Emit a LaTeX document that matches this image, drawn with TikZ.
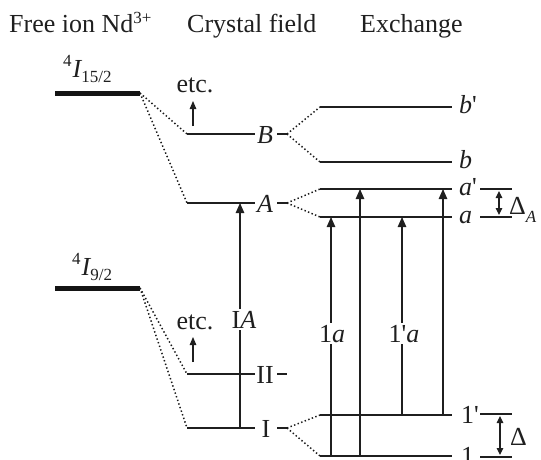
\documentclass[tikz,border=0pt]{standalone}
\usepackage{fontspec}
\setmainfont{Liberation Serif}
\newfontfamily\rawserif{Liberation Serif}
\usetikzlibrary{arrows.meta}
\newcommand\bigsz{\fontsize{26}{30}\selectfont}
\newcommand\smsz{\fontsize{17}{20}\selectfont}
\newcommand\sq{{\rawserif '}}
\tikzset{
  lvl/.style={line width=2pt, draw=black!88},
  xlvl/.style={line width=2.3pt, draw=black!88},
  freelvl/.style={line width=5pt, draw=black!92},
  dotln/.style={line width=1.5pt, dash pattern=on 1.4pt off 2.4pt, draw=black!90},
  arr/.style={line width=1.1pt, draw=black!88, -{Triangle[length=10pt,width=8.5pt]}},
  smarr/.style={line width=1.1pt, draw=black!88, -{Triangle[length=8pt,width=6.5pt]}},
  darr/.style={line width=1.1pt, draw=black!88, {Triangle[length=7pt,width=6.5pt]}-{Triangle[length=7pt,width=6.5pt]}},
  thin/.style={line width=1.1pt, draw=black!88},
  lab/.style={font=\bigsz, inner sep=0pt, text=black!88},
  wlab/.style={font=\bigsz, inner sep=1.5pt, fill=white, text=black!88},
}
\begin{document}
\begin{tikzpicture}[x=1pt,y=-1pt]
\useasboundingbox (0,0) rectangle (541,459);
% headers
\node[lab, anchor=base west] (h1) at (9,32) {Free ion Nd\raisebox{9pt}{\smsz 3+}};
\node[lab, anchor=base west] (h2) at (187,32) {Crystal field};
\node[lab, anchor=base west] (h3) at (360,32) {Exchange};
% free ion levels
\coordinate (F1l) at (55,93); \coordinate (F1r) at (140,93);
\coordinate (F2l) at (55,288); \coordinate (F2r) at (140,288);
\draw[freelvl] (F1l) -- (F1r);
\draw[freelvl] (F2l) -- (F2r);
\node[lab, anchor=base west] (F1lab) at (63,77) {\raisebox{10.5pt}{\smsz 4}\kern1pt\textit{I}\kern-1pt\raisebox{-5pt}{\smsz 15/2}};
\node[lab, anchor=base west] (F2lab) at (72,275) {\raisebox{10.5pt}{\smsz 4}\kern1pt\textit{I}\kern-1pt\raisebox{-5pt}{\smsz 9/2}};
% crystal field levels
\coordinate (Bl) at (187,134); \coordinate (Br) at (255,134);
\coordinate (Al) at (187,203); \coordinate (Ar) at (255,203);
\coordinate (IIl) at (187,374); \coordinate (IIr) at (255,374);
\coordinate (Il) at (187,428); \coordinate (Ir) at (255,428);
\draw[lvl] (Bl) -- (Br);
\draw[lvl] (Al) -- (Ar);
\draw[lvl] (IIl) -- (IIr);
\draw[lvl] (Il) -- (Ir);
\node[lab, anchor=base] (Blab) at (265,143) {\textit{B}};
\node[lab, anchor=base] (Alab) at (265,212) {\textit{A}};
\node[lab, anchor=base] (IIlab) at (265,383) {II};
\node[lab, anchor=base] (Ilab) at (266,437) {I};
\coordinate (Bd1) at (277,134); \coordinate (Bd2) at (287,134);
\coordinate (Ad1) at (277,203); \coordinate (Ad2) at (287,203);
\coordinate (IId1) at (277,374); \coordinate (IId2) at (287,374);
\coordinate (Id1) at (277,428); \coordinate (Id2) at (287,428);
\draw[lvl] (Bd1) -- (Bd2);
\draw[lvl] (Ad1) -- (Ad2);
\draw[lvl] (IId1) -- (IId2);
\draw[lvl] (Id1) -- (Id2);
% exchange levels
\coordinate (bpl) at (320,107); \coordinate (bpr) at (452,107);
\coordinate (bl) at (320,162); \coordinate (br) at (452,162);
\coordinate (apl) at (320,189); \coordinate (apr) at (452,189);
\coordinate (al) at (320,217); \coordinate (ar) at (452,217);
\coordinate (opl) at (320,415); \coordinate (opr) at (452,415);
\coordinate (ol) at (320,456); \coordinate (or) at (452,456);
\draw[xlvl] (bpl) -- (bpr);
\draw[xlvl] (bl) -- (br);
\draw[xlvl] (apl) -- (apr);
\draw[xlvl] (al) -- (ar);
\draw[xlvl] (opl) -- (opr);
\draw[xlvl] (ol) -- (or);
\node[lab, anchor=base west] (bplab) at (459,113) {\textit{b}\sq};
\node[lab, anchor=base west] (blab) at (459,168) {\textit{b}};
\node[lab, anchor=base west] (aplab) at (459,195) {\textit{a}\sq};
\node[lab, anchor=base west] (alab) at (459,223) {\textit{a}};
\node[lab, anchor=base west] (oplab) at (461,423) {1\sq};
\node[lab, anchor=base west] (olab) at (461,464) {1};
% dotted correlation lines
\draw[dotln] (F1r) -- (Bl);
\draw[dotln] (F1r) -- (Al);
\draw[dotln] (F2r) -- (IIl);
\draw[dotln] (F2r) -- (Il);
\draw[dotln] (Bd2) -- (bpl);
\draw[dotln] (Bd2) -- (bl);
\draw[dotln] (Ad2) -- (apl);
\draw[dotln] (Ad2) -- (al);
\draw[dotln] (Id2) -- (opl);
\draw[dotln] (Id2) -- (ol);
% etc.
\node[lab, anchor=base] (etc1) at (195,92) {etc.};
\node[lab, anchor=base] (etc2) at (195,329) {etc.};
\coordinate (e1s) at (193,126); \coordinate (e1e) at (193,101);
\coordinate (e2s) at (193,362); \coordinate (e2e) at (193,337);
\draw[smarr] (e1s) -- (e1e);
\draw[smarr] (e2s) -- (e2e);
% IA transition
\coordinate (IAs) at (240,428); \coordinate (IAe) at (240,203);
\draw[arr] (IAs) -- (IAe);
\node[wlab, anchor=base] (IAlab) at (244,328) {I\textit{A}};
% exchange transitions
\coordinate (t1s) at (331,456); \coordinate (t1e) at (331,217);
\coordinate (t2s) at (360,456); \coordinate (t2e) at (360,189);
\coordinate (t3s) at (402,415); \coordinate (t3e) at (402,217);
\coordinate (t4s) at (443,415); \coordinate (t4e) at (443,189);
\draw[arr] (t1s) -- (t1e);
\draw[arr] (t2s) -- (t2e);
\draw[arr] (t3s) -- (t3e);
\draw[arr] (t4s) -- (t4e);
\node[wlab, anchor=base] (l1a) at (332,342) {1\textit{a}};
\node[wlab, anchor=base] (l1pa) at (404,342) {1\sq\textit{a}};
% splittings
\coordinate (dA1l) at (480,189); \coordinate (dA1r) at (512,189);
\coordinate (dA2l) at (480,217); \coordinate (dA2r) at (512,217);
\coordinate (dAt) at (499,191); \coordinate (dAb) at (499,215);
\draw[thin] (dA1l) -- (dA1r);
\draw[thin] (dA2l) -- (dA2r);
\draw[darr] (dAt) -- (dAb);
\node[lab, anchor=base west] (dAlab) at (509,214) {Δ\raisebox{-8pt}{\smsz\textit{A}}};
\coordinate (d1l) at (480,414); \coordinate (d1r) at (512,414);
\coordinate (d2l) at (480,457); \coordinate (d2r) at (512,457);
\coordinate (dt) at (500,416); \coordinate (db) at (500,455);
\draw[thin] (d1l) -- (d1r);
\draw[thin] (d2l) -- (d2r);
\draw[darr] (dt) -- (db);
\node[lab, anchor=base west] (dlab) at (510,445) {Δ};
\end{tikzpicture}
\end{document}
